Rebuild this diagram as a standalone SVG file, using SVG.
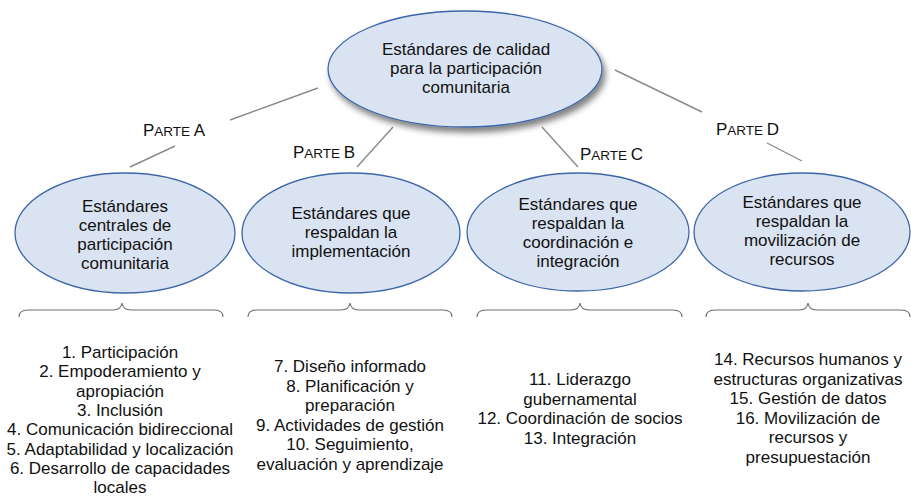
<svg xmlns="http://www.w3.org/2000/svg" width="911" height="497" viewBox="0 0 911 497">
<defs>
<style>
.n{fill:#dae3f2;stroke:#3d66a8;stroke-width:1.3}
.t{font-family:"Liberation Sans",Arial,sans-serif;font-size:17px;fill:#111;text-anchor:middle}
.p{font-family:"Liberation Sans",Arial,sans-serif;font-size:17px;fill:#111}
.s{font-size:13.5px}
.c{stroke:#8a8a8a;stroke-width:1.4;fill:none}
.b{stroke:#6e6e6e;stroke-width:1.1;fill:none}
</style>
<filter id="sh" x="-20%" y="-20%" width="140%" height="150%">
<feGaussianBlur in="SourceAlpha" stdDeviation="3"/>
<feOffset dx="3" dy="5" result="o"/>
<feComponentTransfer><feFuncA type="linear" slope="0.5"/></feComponentTransfer>
<feMerge><feMergeNode/><feMergeNode in="SourceGraphic"/></feMerge>
</filter>
</defs>
<rect width="911" height="497" fill="#fff"/>
<g id="connectors">
<line class="c" x1="318" y1="88" x2="230" y2="120"/>
<line class="c" x1="175" y1="146" x2="130" y2="167"/>
<line class="c" x1="393" y1="127" x2="357" y2="167"/>
<line class="c" x1="542" y1="127" x2="578" y2="167"/>
<line class="c" x1="615" y1="70" x2="702" y2="112"/>
<line class="c" x1="767" y1="143" x2="802" y2="161"/>
<text class="p" x="143" y="136">P<tspan class="s">ARTE </tspan>A</text>
<text class="p" x="293" y="158">P<tspan class="s">ARTE </tspan>B</text>
<text class="p" x="580" y="160">P<tspan class="s">ARTE </tspan>C</text>
<text class="p" x="716" y="135">P<tspan class="s">ARTE </tspan>D</text>
</g>
<g id="root">
<ellipse class="n" cx="465" cy="69" rx="137" ry="58" filter="url(#sh)"/>
<text class="t" x="466" y="55">Estándares de calidad</text>
<text class="t" x="466" y="74">para la participación</text>
<text class="t" x="466" y="93">comunitaria</text>
</g>
<g id="nodeA">
<ellipse class="n" cx="125" cy="233" rx="110" ry="60"/>
<text class="t" x="125" y="212">Estándares</text>
<text class="t" x="125" y="231">centrales de</text>
<text class="t" x="125" y="250">participación</text>
<text class="t" x="125" y="269">comunitaria</text>
</g>
<g id="nodeB">
<ellipse class="n" cx="351" cy="233" rx="109" ry="60"/>
<text class="t" x="351" y="219">Estándares que</text>
<text class="t" x="351" y="238">respaldan la</text>
<text class="t" x="351" y="257">implementación</text>
</g>
<g id="nodeC">
<ellipse class="n" cx="578" cy="232" rx="111" ry="59"/>
<text class="t" x="578" y="210">Estándares que</text>
<text class="t" x="578" y="229">respaldan la</text>
<text class="t" x="578" y="248">coordinación e</text>
<text class="t" x="578" y="267">integración</text>
</g>
<g id="nodeD">
<ellipse class="n" cx="802" cy="232" rx="108" ry="59"/>
<text class="t" x="802" y="208">Estándares que</text>
<text class="t" x="802" y="227">respaldan la</text>
<text class="t" x="802" y="246">movilización de</text>
<text class="t" x="802" y="265">recursos</text>
</g>
<g id="braces">
<path class="b" d="M19 317 Q19 310 28 310 L113 310 Q121 310 122 303 Q123 310 131 310 L214 310 Q223 310 223 317"/>
<path class="b" d="M248 317 Q248 310 257 310 L341 310 Q349 310 350 303 Q351 310 359 310 L443 310 Q452 310 452 317"/>
<path class="b" d="M477 317 Q477 310 486 310 L571 310 Q579 310 580 303 Q581 310 589 310 L673 310 Q682 310 682 317"/>
<path class="b" d="M706 317 Q706 310 715 310 L799 310 Q807 310 808 303 Q809 310 817 310 L901 310 Q910 310 910 317"/>
</g>
<g id="listA">
<text class="t" x="120" y="358">1. Participación</text>
<text class="t" x="120" y="377.3">2. Empoderamiento y</text>
<text class="t" x="120" y="396.6">apropiación</text>
<text class="t" x="120" y="415.9">3. Inclusión</text>
<text class="t" x="120" y="435.2">4. Comunicación bidireccional</text>
<text class="t" x="120" y="454.5">5. Adaptabilidad y localización</text>
<text class="t" x="120" y="473.8">6. Desarrollo de capacidades</text>
<text class="t" x="120" y="493">locales</text>
</g>
<g id="listB">
<text class="t" x="350" y="372">7. Diseño informado</text>
<text class="t" x="350" y="391.6">8. Planificación y</text>
<text class="t" x="350" y="411.2">preparación</text>
<text class="t" x="350" y="430.8">9. Actividades de gestión</text>
<text class="t" x="350" y="450.4">10. Seguimiento,</text>
<text class="t" x="350" y="470">evaluación y aprendizaje</text>
</g>
<g id="listC">
<text class="t" x="580" y="385">11. Liderazgo</text>
<text class="t" x="580" y="404.6">gubernamental</text>
<text class="t" x="580" y="424.2">12. Coordinación de socios</text>
<text class="t" x="580" y="443.8">13. Integración</text>
</g>
<g id="listD">
<text class="t" x="808" y="365">14. Recursos humanos y</text>
<text class="t" x="808" y="384.6">estructuras organizativas</text>
<text class="t" x="808" y="404.2">15. Gestión de datos</text>
<text class="t" x="808" y="423.8">16. Movilización de</text>
<text class="t" x="808" y="443.4">recursos y</text>
<text class="t" x="808" y="463">presupuestación</text>
</g>
</svg>
